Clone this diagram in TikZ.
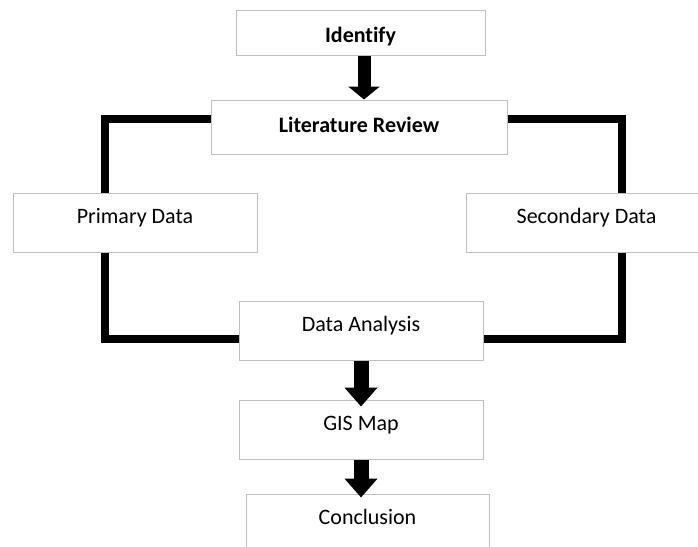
\documentclass[tikz,border=0pt]{standalone}
\usepackage{fontspec}
\setmainfont[Ligatures={NoCommon}]{Carlito}
\usetikzlibrary{arrows.meta}
\definecolor{boxgray}{RGB}{191,191,191}
\begin{document}
\begin{tikzpicture}[x=1pt,y=-1pt,
  box/.style={draw=boxgray, line width=1pt, fill=white, inner sep=0pt,
    font=\fontsize{22}{26}\selectfont, text height=12pt, text depth=10pt,
    minimum width=244pt, minimum height=59pt},
  boldbox/.style={box, font=\fontsize{22}{26}\selectfont\bfseries},
  loopline/.style={line width=8pt, line join=miter},
  arrowA/.style={line width=13pt, -{Triangle[width=31pt,length=13pt]}},
  arrowB/.style={line width=15pt, -{Triangle[width=32pt,length=19pt]}}]
\useasboundingbox (0,0) rectangle (698,546);
% coordinates of the loop corners
\coordinate (ltop) at (104.5,119);
\coordinate (lbot) at (104.5,338.5);
\coordinate (rtop) at (622,119);
\coordinate (rbot) at (622,338.5);
% boxes
\node[boldbox, minimum width=249pt, minimum height=45pt, text height=20pt, text depth=0pt] (identify) at (360.5,32.5) {Identify};
\node[boldbox, minimum width=296pt, minimum height=54pt, text height=15pt, text depth=5pt] (lit) at (359,127) {Literature Review};
\node[box] (primary) at (135,222.5) {Primary Data};
\node[box, minimum width=241pt] (secondary) at (586.5,222.5) {Secondary Data};
\node[box] (analysis) at (361,330.5) {Data Analysis};
\node[box] (gis) at (361,429.5) {GIS Map};
\node[box, minimum width=243pt] (conclusion) at (367.5,523.5) {Conclusion};
% loop connectors
\draw[loopline] (ltop -| lit.west) -- (ltop) -- (ltop |- primary.north);
\draw[loopline] (ltop |- primary.south) -- (lbot) -- (lbot -| analysis.west);
\draw[loopline] (rtop -| lit.east) -- (rtop) -- (rtop |- secondary.north);
\draw[loopline] (rtop |- secondary.south) -- (rbot) -- (rbot -| analysis.east);
% arrows
\path (identify.south) ++(3.5,0) coordinate (a1s);
\draw[arrowA] (a1s) -- (a1s |- lit.north);
\path (gis.north) ++(0,7) coordinate (a2e);
\draw[arrowB] (analysis.south) -- (a2e);
\path (conclusion.north -| gis.south) ++(0,4) coordinate (a3e);
\draw[arrowB] (gis.south) -- (a3e);
\end{tikzpicture}
\end{document}
